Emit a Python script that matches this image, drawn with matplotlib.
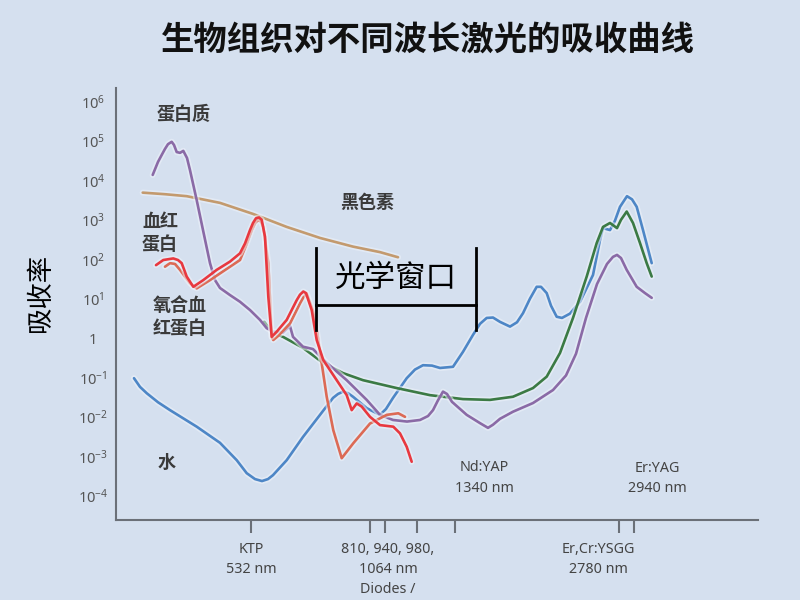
import numpy as np
import matplotlib.pyplot as plt
import matplotlib.patheffects as pe

plt.rcParams['font.family'] = ['Noto Sans', 'Noto Sans CJK SC', 'DejaVu Sans']
CJK = ['Noto Sans CJK SC', 'DejaVu Sans']

# === 数据 (x: 波长轴位置, y: log10 吸收率) ===
protein_x = [152.7, 158, 162, 165, 168, 171.7, 174, 176.7, 180, 183.3, 187, 190, 196.7, 203, 210, 215, 220, 230,
             240, 250, 260, 266.7, 273, 283, 287, 290, 293, 303, 313, 326.7, 346.7, 366.7, 380, 393, 407, 420,
             428, 433, 438, 443, 447, 452, 466.7, 480, 488, 493, 500, 513, 533, 553, 566, 576, 586, 597, 607,
             613, 617, 621, 626.7, 636.7, 645, 651.7]
protein_y = [4.14, 4.47, 4.66, 4.80, 4.92, 4.98, 4.90, 4.72, 4.70, 4.75, 4.57, 4.26, 3.50, 2.74, 1.90, 1.47, 1.27, 1.09,
             0.92, 0.71, 0.46, 0.25, 0.16, 0.14, 0.24, 0.30, 0.03, -0.22, -0.28, -0.63, -1.07, -1.57, -1.95, -2.08, -2.12, -2.08,
             -1.98, -1.83, -1.58, -1.36, -1.42, -1.62, -1.95, -2.16, -2.28, -2.20, -2.05, -1.87, -1.65, -1.32, -0.95, -0.40, 0.51, 1.37, 1.88,
             2.06, 2.11, 2.03, 1.73, 1.30, 1.14, 1.02]

tissue_x = [264, 273, 283, 303, 323, 343, 363, 396.7, 430, 463, 490, 513, 533, 546.7, 560, 573,
            586.7, 596.7, 603, 610, 617, 621, 626.7, 633, 640, 646.7, 651.7]
tissue_y = [0.41, 0.13, 0.03, -0.25, -0.63, -0.89, -1.07, -1.27, -1.45, -1.55, -1.57, -1.49, -1.27, -0.98, -0.38, 0.51,
            1.56, 2.41, 2.82, 2.92, 2.79, 3.00, 3.21, 2.92, 2.41, 1.90, 1.56]

water_x = [134, 140, 146.7, 158, 170, 196.7, 220, 236.7, 246.7, 255, 262, 268, 273, 286.7, 303, 320, 333, 338,
           343, 348, 353, 366.7, 380, 386, 393, 406.7, 415, 423, 432, 440, 453, 463, 473, 480, 486.7, 493, 500,
           510, 517, 523, 530, 536.7, 541, 546.7, 551, 556.7, 562, 570, 580, 593, 600, 603, 610, 615, 620, 627,
           632, 636.7, 643, 651.7]
water_y = [-1.02, -1.24, -1.40, -1.63, -1.83, -2.25, -2.66, -3.10, -3.43, -3.58, -3.63, -3.58, -3.48, -3.10, -2.51, -1.95, -1.52, -1.42,
           -1.36, -1.40, -1.49, -1.78, -1.95, -1.80, -1.52, -1.02, -0.80, -0.69, -0.70, -0.76, -0.73, -0.35, 0.08, 0.36, 0.51, 0.52, 0.41,
           0.29, 0.40, 0.63, 1.00, 1.30, 1.30, 1.14, 0.82, 0.54, 0.51, 0.62, 0.92, 1.60, 2.49, 2.79, 2.74, 2.98, 3.33, 3.60,
           3.52, 3.33, 2.74, 1.90]

melanin_x = [142.7, 165, 186.7, 220, 253, 286.7, 320, 353, 380, 398]
melanin_y = [3.69, 3.65, 3.60, 3.43, 3.15, 2.82, 2.54, 2.32, 2.18, 2.05]

hb_x = [156, 163.3, 173.3, 178, 181.7, 186.7, 193.3, 203.3, 216.7, 230, 240, 245, 250, 253, 256, 259, 261.7,
        265, 268.3, 271.7, 276.7, 286.7, 296.7, 300, 303.3, 306, 311.7, 316.7, 323.3, 336.7, 346.7, 351.7,
        356.7, 361.7, 370, 380, 393.3, 400, 406.7, 411.7]
hb_y = [1.85, 1.98, 2.02, 1.98, 1.90, 1.56, 1.30, 1.47, 1.73, 1.94, 2.15, 2.40, 2.74, 2.92, 3.04, 3.06, 3.00,
        2.57, 1.05, 0.03, 0.16, 0.46, 0.96, 1.10, 1.18, 1.14, 0.71, -0.05, -0.56, -1.07, -1.45, -1.83,
        -1.66, -1.74, -2.00, -2.21, -2.25, -2.42, -2.76, -3.14]

hbo2_x = [165, 170, 175, 180, 190, 196.7, 210, 230, 240, 246, 251.7, 255, 258.3, 261, 263.3, 268.3, 271.7,
          273.3, 278, 290, 300, 303.5, 306.7, 312.7, 316, 321.7, 326.7, 333.3, 341.7, 353.3, 370, 386.7, 398.3, 405]
hbo2_y = [1.81, 1.90, 1.88, 1.73, 1.39, 1.26, 1.47, 1.81, 1.98, 2.35, 2.74, 2.92, 3.00, 2.95, 2.82, 1.90, 0.03,
          -0.05, 0.05, 0.37, 0.88, 1.04, 1.13, 0.71, 0.33, -0.64, -1.49, -2.34, -3.05, -2.67, -2.17, -1.95, -1.91, -2.00]

ytick_pos = [6, 5, 4, 3, 2, 1, 0, -1, -2, -3, -4]
ytick_lab = ['$\\mathregular{10^{%d}}$' % v if v != 0 else '1' for v in ytick_pos]

laser_ticks = [251, 369.5, 385, 416.5, 454.5, 619, 634]

BG = '#d5e0ef'
fig = plt.figure(figsize=(8, 6), dpi=100, facecolor=BG)
ax = fig.add_axes([0.145, 0.1333, 0.8025, 0.72], facecolor=BG)

halo = [pe.Stroke(linewidth=4.4, foreground='#eef3fa', alpha=0.55), pe.Normal()]
series = [
    (melanin_x, melanin_y, '#c39a6e'),
    (water_x, water_y, '#4d86c6'),
    (tissue_x, tissue_y, '#3b7a44'),
    (protein_x, protein_y, '#8a6aa6'),
    (hbo2_x, hbo2_y, '#dc6a55'),
    (hb_x, hb_y, '#e8383f'),
]
for xs, ys, c in series:
    ax.plot(xs, ys, color=c, lw=1.9, path_effects=halo,
            solid_capstyle='round', solid_joinstyle='round')

ax.set_xlim(116, 758)
ax.set_ylim(-4.619, 6.345)
for s in ['top', 'right']:
    ax.spines[s].set_visible(False)
for s in ['left', 'bottom']:
    ax.spines[s].set_color('#6b7078')
    ax.spines[s].set_linewidth(1.5)

ax.set_yticks(ytick_pos)
ax.set_yticklabels(ytick_lab)
ax.tick_params(axis='y', length=0, pad=16.5, labelsize=10.5, labelcolor='#555555')
for t in ax.get_yticklabels():
    t.set_horizontalalignment('center')

ax.set_xticks(laser_ticks)
ax.set_xticklabels([])
ax.tick_params(axis='x', direction='out', length=9.5, width=1.5, color='#6b7078')

# 坐标轴下方的激光标注
xt = ax.get_xaxis_transform()
lab_kw = dict(ha='center', va='top', fontsize=10.3, color='#444444', linespacing=1.45, transform=xt, clip_on=False)
ax.text(251, -0.05, 'KTP\n532 nm', **lab_kw)
ax.text(388, -0.05, '810, 940, 980,\n1064 nm\nDiodes /', **lab_kw)
ax.text(598, -0.05, 'Er,Cr:YSGG\n2780 nm', **lab_kw)

# 图内文字
in_kw = dict(ha='center', va='center', fontsize=10.3, color='#444444', linespacing=1.5)
ax.text(484, -3.55, 'Nd:YAP\n1340 nm', **in_kw)
ax.text(657, -3.57, 'Er:YAG\n2940 nm', **in_kw)

cn_kw = dict(ha='center', va='center', fontsize=13, color='#3a3a3a', fontweight='bold', family=CJK, linespacing=1.25)
ax.text(184, 5.68, '蛋白质', **cn_kw)
ax.text(367, 3.45, '黑色素', **cn_kw)
ax.text(160, 2.66, '血红\n蛋白', **cn_kw)
ax.text(180, 0.53, '氧合血\n红蛋白', **cn_kw)
ax.text(167, -3.17, '水', **cn_kw)

# 光学窗口
ax.plot([316, 316], [2.28, 0.20], color='black', lw=2)
ax.plot([476, 476], [2.28, 0.20], color='black', lw=2)
ax.plot([316, 476], [0.84, 0.84], color='black', lw=2)
ax.text(396, 1.52, '光学窗口', ha='center', va='center', fontsize=22, color='black', family=CJK)

fig.text(0.535, 0.933, '生物组织对不同波长激光的吸收曲线', ha='center', va='center',
         fontsize=24, fontweight='bold', color='#111111', family=CJK)
fig.text(0.05, 0.512, '吸收率', rotation=90, ha='center', va='center', fontsize=19, color='black', family=CJK)

plt.savefig('out.png', dpi=100, facecolor=BG)
